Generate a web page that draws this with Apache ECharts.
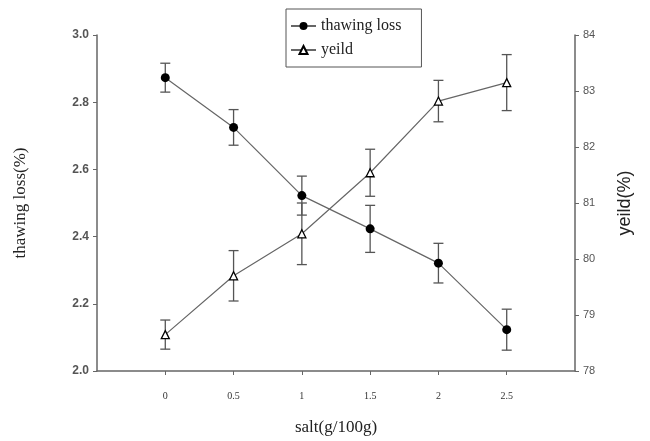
<!DOCTYPE html>
<html>
<head>
<meta charset="utf-8">
<script src="https://cdn.jsdelivr.net/npm/echarts@6/dist/echarts.min.js"></script>
<style>
html,body{margin:0;padding:0;background:#fff;}
#chart{width:650px;height:441px;}
</style>
</head>
<body>
<div id="chart"></div>
<script>
var salt = [0, 0.5, 1, 1.5, 2, 2.5];
var thawLoss = [2.873, 2.725, 2.522, 2.423, 2.321, 2.123];
var thawErr = [0.043, 0.053, 0.058, 0.070, 0.059, 0.061];
var yieldVal = [78.65, 79.70, 80.45, 81.54, 82.82, 83.15];
var yieldErr = [0.26, 0.45, 0.55, 0.42, 0.37, 0.50];
var xTicks = [0, 0.5, 1, 1.5, 2, 2.5];
var leftTicks = [2.0, 2.2, 2.4, 2.6, 2.8, 3.0];
var rightTicks = [78, 79, 80, 81, 82, 83, 84];

var chart = echarts.init(document.getElementById('chart'), null, {renderer: 'canvas'});

function errData(vals, errs) {
  return salt.map(function (x, i) { return [x, vals[i] - errs[i], vals[i] + errs[i]]; });
}
function errRender(params, api) {
  var x = api.value(0);
  var lo = api.coord([x, api.value(1)]);
  var hi = api.coord([x, api.value(2)]);
  var hw = 5;
  var st = {stroke: '#555', lineWidth: 1.3};
  return {
    type: 'group',
    children: [
      {type: 'line', shape: {x1: lo[0], y1: lo[1], x2: hi[0], y2: hi[1]}, style: st},
      {type: 'line', shape: {x1: lo[0] - hw, y1: lo[1], x2: lo[0] + hw, y2: lo[1]}, style: st},
      {type: 'line', shape: {x1: hi[0] - hw, y1: hi[1], x2: hi[0] + hw, y2: hi[1]}, style: st}
    ]
  };
}

var axisLineStyle = {color: '#666', width: 1.5};

chart.setOption({
  animation: false,
  backgroundColor: '#fff',
  grid: {left: 97, right: 75, top: 35, bottom: 64},
  legend: {
    left: 286, top: 9,
    orient: 'vertical',
    padding: [9, 20, 9, 4],
    itemGap: 8,
    itemWidth: 25, itemHeight: 10,
    borderColor: '#555', borderWidth: 1,
    data: ['thawing loss', 'yeild'],
    textStyle: {fontFamily: 'Liberation Serif', fontSize: 16, color: '#222'}
  },
  xAxis: {
    type: 'value', min: -0.5, max: 3, interval: 0.5,
    name: 'salt(g/100g)', nameLocation: 'middle', nameGap: 48,
    nameTextStyle: {fontFamily: 'Liberation Serif', fontSize: 17, color: '#222'},
    axisLine: {onZero: false, lineStyle: axisLineStyle},
    axisTick: {show: true, length: 4, inside: false, customValues: xTicks, lineStyle: {color: '#666'}},
    axisLabel: {customValues: xTicks, margin: 20, fontFamily: 'Liberation Serif', fontSize: 10, color: '#333',
      formatter: function (v) { return String(v); }},
    splitLine: {show: false}
  },
  yAxis: [
    {
      type: 'value', min: 2, max: 3, interval: 0.2, position: 'left',
      name: 'thawing loss(%)', nameLocation: 'middle', nameGap: 68, nameRotate: 90,
      nameTextStyle: {fontFamily: 'Liberation Serif', fontSize: 17, color: '#222'},
      axisLine: {show: true, onZero: false, lineStyle: axisLineStyle},
      axisTick: {show: true, length: 4, lineStyle: {color: '#666'}},
      axisLabel: {margin: 8, fontFamily: 'Liberation Sans', fontWeight: 'bold', fontSize: 12, color: '#555',
        formatter: function (v) { return v.toFixed(1); }},
      splitLine: {show: false}
    },
    {
      type: 'value', min: 78, max: 84, interval: 1, position: 'right',
      name: 'yeild(%)', nameLocation: 'middle', nameGap: 41, nameRotate: 90,
      nameTextStyle: {fontFamily: 'Liberation Sans', fontSize: 18, color: '#222'},
      axisLine: {show: true, onZero: false, lineStyle: axisLineStyle},
      axisTick: {show: true, length: 4, lineStyle: {color: '#666'}},
      axisLabel: {margin: 8, fontFamily: 'Liberation Sans', fontSize: 11, color: '#555'},
      splitLine: {show: false}
    }
  ],
  series: [
    {
      type: 'custom', name: 'thawErr', yAxisIndex: 0, renderItem: errRender,
      data: errData(thawLoss, thawErr), z: 1, silent: true,
      encode: {x: 0, y: [1, 2]}
    },
    {
      type: 'custom', name: 'yieldErr', yAxisIndex: 1, renderItem: errRender,
      data: errData(yieldVal, yieldErr), z: 1, silent: true,
      encode: {x: 0, y: [1, 2]}
    },
    {
      type: 'line', name: 'thawing loss', yAxisIndex: 0,
      data: salt.map(function (x, i) { return [x, thawLoss[i]]; }),
      symbol: 'circle', symbolSize: 9,
      itemStyle: {color: '#000'},
      lineStyle: {color: '#666', width: 1.2},
      z: 3
    },
    {
      type: 'line', name: 'yeild', yAxisIndex: 1,
      data: salt.map(function (x, i) { return [x, yieldVal[i]]; }),
      symbol: 'triangle', symbolSize: 8,
      itemStyle: {color: '#fff', borderColor: '#000', borderWidth: 1.3},
      lineStyle: {color: '#666', width: 1.2},
      z: 3
    }
  ]
});
</script>
</body>
</html>
